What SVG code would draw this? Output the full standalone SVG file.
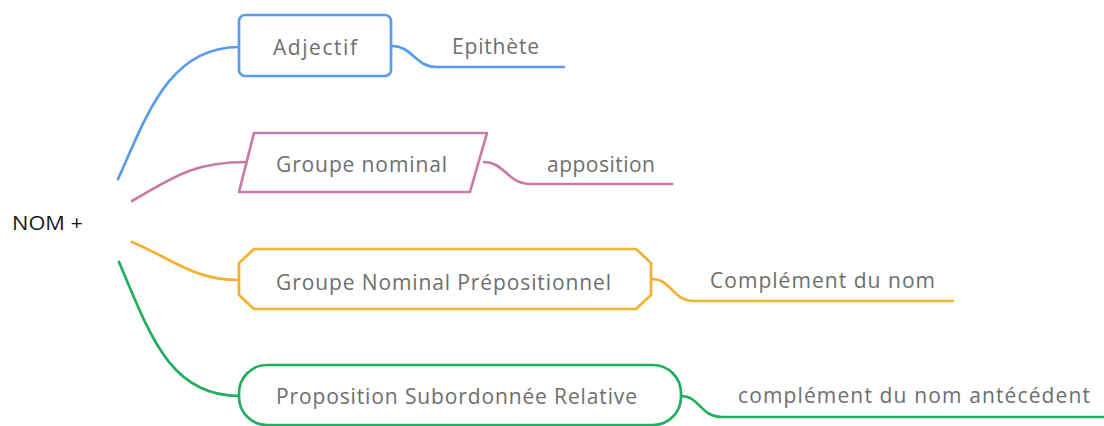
<svg xmlns="http://www.w3.org/2000/svg" width="1104" height="426" viewBox="0 0 1104 426">
<style>
  .bg { fill: #ffffff; }
  .lbl { font-family: "Open Sans", "Liberation Sans", sans-serif; font-size: 21px; fill: #6e6e6e; }
  .root { font-family: "Open Sans", "Liberation Sans", sans-serif; font-size: 20px; fill: #1a1a1a; }
  .conn { fill: none; stroke-width: 2.7; stroke-linecap: round; stroke-linejoin: round; }
  .box { fill: #ffffff; stroke-width: 2.7; stroke-linejoin: round; }
  .blue { stroke: #5b9bec; }
  .pink { stroke: #c97aa8; }
  .orange { stroke: #f2b132; }
  .green { stroke: #21af5f; }
</style>
<rect class="bg" x="0" y="0" width="1104" height="426"/>
<g id="connectors">
  <path class="conn blue" d="M118,179 C146,118 168,47 239,47"/>
  <path class="conn blue" d="M392,46 C412,46 416,67 436,67 L564,67"/>
  <path class="conn pink" d="M132,201 C175,176 195,162 246,162"/>
  <path class="conn pink" d="M484,162 C504,162 508,184 530,184 L672,184"/>
  <path class="conn orange" d="M132,242 C178,262 195,280 239,280"/>
  <path class="conn orange" d="M652,279 C672,279 672,301 694,301 L953,301"/>
  <path class="conn green" d="M119,262 C150,335 170,396 239,396"/>
  <path class="conn green" d="M681,396 C700,396 700,417 722,417 L1104,417"/>
</g>
<g id="root">
  <text class="root" x="12" y="230" textLength="71" lengthAdjust="spacingAndGlyphs">NOM +</text>
</g>
<g id="adjectif">
  <rect class="box blue" x="239" y="15" width="152" height="61" rx="6"/>
  <text class="lbl" x="273" y="55" textLength="84" lengthAdjust="spacing">Adjectif</text>
</g>
<g id="epithete">
  <text class="lbl" x="452" y="54" textLength="87" lengthAdjust="spacing">Epithète</text>
</g>
<g id="groupe-nominal">
  <polygon class="box pink" points="254,133 487,133 470,192 239,192"/>
  <text class="lbl" x="276" y="172" textLength="171" lengthAdjust="spacing">Groupe nominal</text>
</g>
<g id="apposition">
  <text class="lbl" x="547" y="172" textLength="108" lengthAdjust="spacing">apposition</text>
</g>
<g id="gn-prepositionnel">
  <polygon class="box orange" points="254,249 636,249 651,263 651,295 636,309 254,309 239,295 239,263"/>
  <text class="lbl" x="276" y="290" textLength="335" lengthAdjust="spacing">Groupe Nominal Prépositionnel</text>
</g>
<g id="complement-nom">
  <text class="lbl" x="710" y="288" textLength="225" lengthAdjust="spacing">Complément du nom</text>
</g>
<g id="prop-sub-relative">
  <rect class="box green" x="239" y="365" width="442" height="60" rx="28"/>
  <text class="lbl" x="276" y="404" textLength="361" lengthAdjust="spacing">Proposition Subordonnée Relative</text>
</g>
<g id="complement-antecedent">
  <text class="lbl" x="738" y="403" textLength="352" lengthAdjust="spacing">complément du nom antécédent</text>
</g>
</svg>
